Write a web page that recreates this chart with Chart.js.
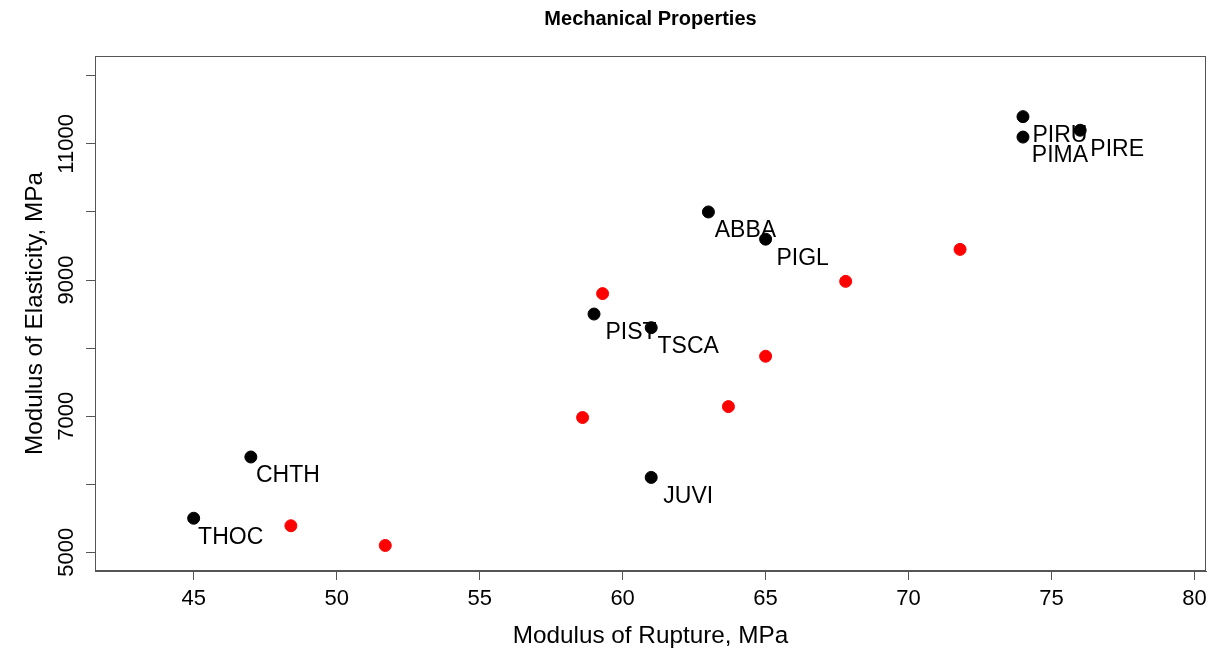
<!DOCTYPE html>
<html>
<head>
<meta charset="utf-8">
<script src="https://cdn.jsdelivr.net/npm/chart.js@4.4.1/dist/chart.umd.min.js"></script>
<style>
  html, body { margin: 0; padding: 0; background: #fff; }
  #wrap { width: 1213px; height: 650px; }
</style>
</head>
<body>
<div id="wrap"><canvas id="chart" width="1213" height="650"></canvas></div>
<script>
// labelled species (black)
const speciesNames = ["THOC", "CHTH", "JUVI", "PIST", "TSCA", "ABBA", "PIGL", "PIRU", "PIMA", "PIRE"];
const speciesMOR = [45, 47, 61, 59, 61, 63, 65, 74, 74, 76];
const speciesMOE = [5500, 6400, 6100, 8500, 8300, 10000, 9600, 11400, 11100, 11200];

// unlabelled points (red)
const otherMOR = [48.4, 51.7, 58.6, 59.3, 63.7, 65.0, 67.8, 71.8];
const otherMOE = [5390, 5100, 6980, 8800, 7140, 7880, 8980, 9450];

const xTicks = [45, 50, 55, 60, 65, 70, 75, 80];
const yTicks = [5000, 6000, 7000, 8000, 9000, 10000, 11000, 12000];
const yTickLabels = [5000, 7000, 9000, 11000];

const FONT = "'Liberation Sans', Arial, sans-serif";
const AXIS = "#555";

const boxPlugin = {
  id: "box",
  afterDraw(chart) {
    const { ctx, chartArea: a } = chart;
    ctx.save();
    ctx.strokeStyle = AXIS;
    ctx.lineWidth = 1;
    ctx.strokeRect(Math.round(a.left) + 0.5, Math.round(a.top) + 0.5, Math.round(a.right - a.left) - 1, Math.round(a.bottom - a.top) - 1);
    ctx.restore();
  }
};

const labelPlugin = {
  id: "pointLabels",
  afterDatasetsDraw(chart) {
    const { ctx } = chart;
    const meta = chart.getDatasetMeta(0);
    ctx.save();
    ctx.font = "23px " + FONT;
    ctx.fillStyle = "#000";
    ctx.textAlign = "center";
    ctx.textBaseline = "middle";
    meta.data.forEach((pt, i) => {
      ctx.fillText(speciesNames[i], pt.x + 37, pt.y + 19);
    });
    ctx.restore();
  }
};

new Chart(document.getElementById("chart"), {
  type: "scatter",
  data: {
    datasets: [
      {
        data: speciesMOR.map((x, i) => ({ x, y: speciesMOE[i] })),
        backgroundColor: "#000", borderColor: "#000",
        pointRadius: 6, borderWidth: 1
      },
      {
        data: otherMOR.map((x, i) => ({ x, y: otherMOE[i] })),
        backgroundColor: "#ff0000", borderColor: "#ff0000",
        pointRadius: 6, borderWidth: 1
      }
    ]
  },
  options: {
    responsive: false,
    animation: false,
    devicePixelRatio: 1,
    events: [],
    layout: { padding: { left: 0, right: 4, top: 0, bottom: 0 } },
    plugins: {
      legend: { display: false },
      tooltip: { enabled: false },
      title: {
        display: true,
        text: "Mechanical Properties",
        fullSize: false,
        color: "#000",
        font: { family: FONT, size: 20, weight: "bold" },
        padding: { top: 7, bottom: 25 }
      }
    },
    scales: {
      x: {
        type: "linear",
        min: 41.55, max: 80.4,
        afterBuildTicks: s => { s.ticks = xTicks.map(v => ({ value: v })); },
        afterFit: s => { s.height = 79; },
        grid: { drawOnChartArea: false, drawTicks: true, tickLength: 9, tickColor: AXIS, color: AXIS },
        border: { display: true, color: AXIS },
        ticks: { autoSkip: false, maxRotation: 0, color: "#000", padding: 6, font: { family: FONT, size: 22 } },
        title: { display: true, text: "Modulus of Rupture, MPa", color: "#000", font: { family: FONT, size: 24.3 }, padding: { top: 0, bottom: -1 } }
      },
      y: {
        type: "linear",
        min: 4725, max: 12291,
        afterBuildTicks: s => { s.ticks = yTicks.map(v => ({ value: v })); },
        afterFit: s => { s.width = 95; },
        grid: { drawOnChartArea: false, drawTicks: true, tickLength: 9, tickColor: AXIS, color: AXIS },
        border: { display: true, color: AXIS },
        ticks: {
          autoSkip: false, minRotation: 90, maxRotation: 90, crossAlign: "center",
          padding: -10.6, color: "#000", font: { family: FONT, size: 22 },
          callback: v => (yTickLabels.includes(v) ? String(v) : "")
        },
        title: { display: true, text: "Modulus of Elasticity, MPa", color: "#000", font: { family: FONT, size: 24.3 }, padding: { top: 20.4, bottom: 0 } }
      }
    }
  },
  plugins: [boxPlugin, labelPlugin]
});
</script>
</body>
</html>
